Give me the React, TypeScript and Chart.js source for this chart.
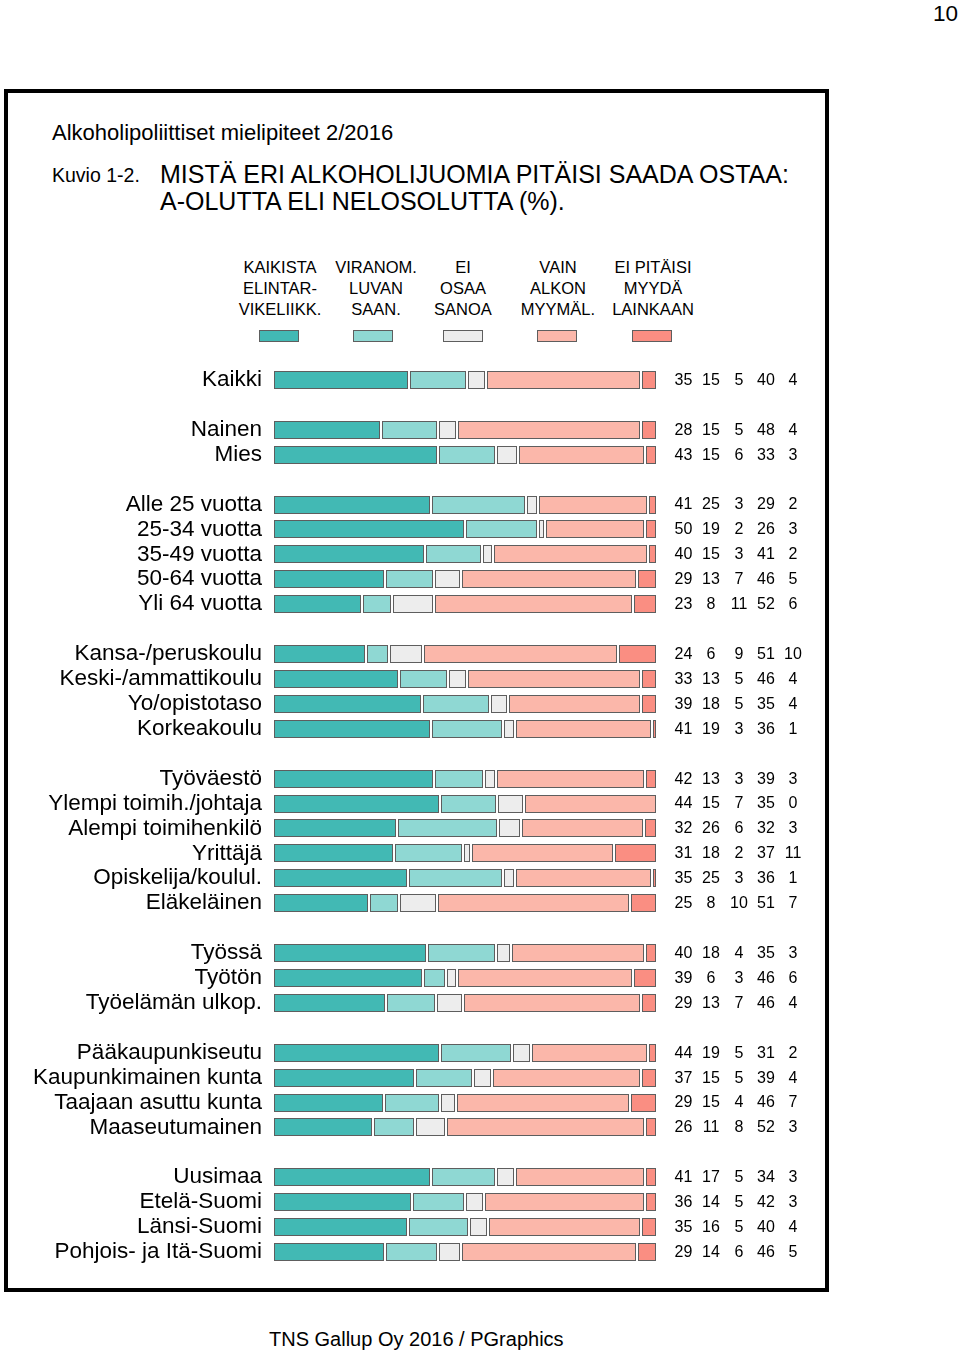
import React, { useEffect, useRef } from "react";
import { Chart, registerables } from "chart.js";

Chart.register(...registerables);

const FONT = '"Liberation Sans", Arial, Helvetica, sans-serif';
const BORDER = "#5e5e5e";

// ---- data ----
const categories = [
  "Kaikki",
  "Nainen", "Mies",
  "Alle 25 vuotta", "25-34 vuotta", "35-49 vuotta", "50-64 vuotta", "Yli 64 vuotta",
  "Kansa-/peruskoulu", "Keski-/ammattikoulu", "Yo/opistotaso", "Korkeakoulu",
  "Työväestö", "Ylempi toimih./johtaja", "Alempi toimihenkilö", "Yrittäjä", "Opiskelija/koulul.", "Eläkeläinen",
  "Työssä", "Työtön", "Työelämän ulkop.",
  "Pääkaupunkiseutu", "Kaupunkimainen kunta", "Taajaan asuttu kunta", "Maaseutumainen",
  "Uusimaa", "Etelä-Suomi", "Länsi-Suomi", "Pohjois- ja Itä-Suomi",
];
const groupSizes = [1, 2, 5, 4, 6, 3, 4, 4];

const seriesNames = [
  ["KAIKISTA", "ELINTAR-", "VIKELIIKK."],
  ["VIRANOM.", "LUVAN", "SAAN."],
  ["EI", "OSAA", "SANOA"],
  ["VAIN", "ALKON", "MYYMÄL."],
  ["EI PITÄISI", "MYYDÄ", "LAINKAAN"],
];

const kaikistaElintarvikeliikkeista = [35, 28, 43, 41, 50, 40, 29, 23, 24, 33, 39, 41, 42, 44, 32, 31, 35, 25, 40, 39, 29, 44, 37, 29, 26, 41, 36, 35, 29];
const viranomaisenLuvanSaaneista = [15, 15, 15, 25, 19, 15, 13, 8, 6, 13, 18, 19, 13, 15, 26, 18, 25, 8, 18, 6, 13, 19, 15, 15, 11, 17, 14, 16, 14];
const eiOsaaSanoa = [5, 5, 6, 3, 2, 3, 7, 11, 9, 5, 5, 3, 3, 7, 6, 2, 3, 10, 4, 3, 7, 5, 5, 4, 8, 5, 5, 5, 6];
const vainAlkonMyymalista = [40, 48, 33, 29, 26, 41, 46, 52, 51, 46, 35, 36, 39, 35, 32, 37, 36, 51, 35, 46, 46, 31, 39, 46, 52, 34, 42, 40, 46];
const eiPitaisiMyydaLainkaan = [4, 4, 3, 2, 3, 2, 5, 6, 10, 4, 4, 1, 3, 0, 3, 11, 1, 7, 3, 6, 4, 2, 4, 7, 3, 3, 3, 4, 5];

const seriesValues = [
  kaikistaElintarvikeliikkeista,
  viranomaisenLuvanSaaneista,
  eiOsaaSanoa,
  vainAlkonMyymalista,
  eiPitaisiMyydaLainkaan,
];
const seriesColors = ["#42b9b4", "#8fd8d3", "#ededed", "#fbb7aa", "#fa8e82"];

// ---- layout ----
const valueColumnsX = [683.5, 711, 739, 766, 793];
const legendCentersX = [280, 376, 463, 558, 653];
const swatchLeftX = [259, 353, 443, 537, 632];

function Txt(props: { x: number; base: number; size: number; align?: string; children: any }) {
  const { x, base, size, align = "left", children } = props;
  const style: any = {
    position: "absolute",
    top: base - 0.8465 * size,
    fontSize: size,
    lineHeight: size + "px",
    fontFamily: FONT,
    whiteSpace: "nowrap",
    color: "#000",
  };
  if (align === "left") style.left = x;
  else if (align === "right") style.right = 960 - x;
  else {
    style.left = x;
    style.transform = "translateX(-50%)";
  }
  return <div style={style}>{children}</div>;
}

export default function App() {
  const canvasRef = useRef<HTMLCanvasElement | null>(null);

  useEffect(() => {
    const rowLabels: string[] = [];
    const rowIndex: (number | null)[] = [];
    let k = 0;
    groupSizes.forEach((g, gi) => {
      if (gi > 0) {
        rowLabels.push("");
        rowIndex.push(null);
      }
      for (let i = 0; i < g; i++) {
        rowLabels.push(categories[k]);
        rowIndex.push(k);
        k++;
      }
    });
    const totals = categories.map((_, i) => seriesValues.reduce((s, arr) => s + arr[i], 0));

    const datasets = seriesValues.map((arr, si) => ({
      label: seriesNames[si].join(" "),
      data: rowIndex.map((r) => (r === null ? null : (arr[r] * 100) / totals[r])),
      backgroundColor: seriesColors[si],
    }));

    const segmentPlugin = {
      id: "segments",
      beforeDatasetDraw() {
        return false;
      },
      afterDatasetsDraw(chart: any) {
        const ctx = chart.ctx;
        const area = chart.chartArea;
        ctx.save();
        chart.data.datasets.forEach((ds: any, di: number) => {
          const meta = chart.getDatasetMeta(di);
          meta.data.forEach((el: any, i: number) => {
            const v = ds.data[i];
            if (v == null || v <= 0) return;
            const p = el.getProps(["x", "y", "base", "height"], true);
            let l = Math.round(Math.min(p.x, p.base));
            let r = Math.round(Math.max(p.x, p.base));
            const t = Math.round(p.y - p.height / 2);
            const b = Math.round(p.y + p.height / 2);
            if (l > area.left + 0.5) l += 1;
            if (r < area.right - 0.5) r -= 1;
            if (r - l < 2) r = l + 2;
            ctx.fillStyle = ds.backgroundColor;
            ctx.fillRect(l, t, r - l, b - t);
            ctx.strokeStyle = BORDER;
            ctx.lineWidth = 1;
            ctx.strokeRect(l + 0.5, t + 0.5, r - l - 1, b - t - 1);
          });
        });
        ctx.restore();
      },
    };

    const valuePlugin = {
      id: "values",
      afterDraw(chart: any) {
        const ctx = chart.ctx;
        const yScale = chart.scales.y;
        ctx.save();
        ctx.font = `16px ${FONT}`;
        ctx.fillStyle = "#000";
        ctx.textAlign = "center";
        ctx.textBaseline = "middle";
        rowIndex.forEach((r, i) => {
          if (r === null) return;
          const y = yScale.getPixelForValue(i) + 0.5;
          seriesValues.forEach((arr, si) => {
            ctx.fillText(String(arr[r]), valueColumnsX[si], y);
          });
        });
        ctx.restore();
      },
    };

    const chart = new Chart(canvasRef.current as HTMLCanvasElement, {
      type: "bar",
      data: { labels: rowLabels, datasets: datasets as any },
      options: {
        indexAxis: "y",
        responsive: false,
        animation: false,
        events: [],
        layout: { padding: { left: 0, right: 174, top: 17.5, bottom: 15.5 } },
        plugins: { legend: { display: false }, tooltip: { enabled: false } },
        datasets: { bar: { barThickness: 18 } },
        scales: {
          x: { stacked: true, min: 0, max: 100, display: false },
          y: {
            stacked: true,
            grid: { display: false, drawTicks: false },
            border: { display: false },
            afterFit: (s: any) => {
              s.width = 274;
              s.paddingTop = 0;
              s.paddingBottom = 0;
            },
            ticks: {
              autoSkip: false,
              padding: 12,
              color: "#000",
              font: { family: FONT, size: 22.5 },
            },
          },
        },
      } as any,
      plugins: [segmentPlugin, valuePlugin],
    });
    return () => chart.destroy();
  }, []);

  return (
    <div style={{ position: "absolute", left: 0, top: 0, width: 960, height: 1354, background: "#fff", overflow: "hidden" }}>
      <Txt x={958} base={22} size={22.5} align="right">10</Txt>
      <div
        style={{
          position: "absolute",
          left: 4,
          top: 89,
          width: 825,
          height: 1203,
          border: "4px solid #000",
          boxSizing: "border-box",
        }}
      />
      <Txt x={52} base={141} size={22}>Alkoholipoliittiset mielipiteet 2/2016</Txt>
      <Txt x={52} base={183} size={19.5}>Kuvio 1-2.</Txt>
      <Txt x={160} base={183} size={25}>MISTÄ ERI ALKOHOLIJUOMIA PITÄISI SAADA OSTAA:</Txt>
      <Txt x={160} base={210} size={25}>A-OLUTTA ELI NELOSOLUTTA (%).</Txt>
      {seriesNames.map((lines, si) =>
        lines.map((line, li) => (
          <Txt key={si + "-" + li} x={legendCentersX[si]} base={273 + li * 21.2} size={16.5} align="center">
            {line}
          </Txt>
        ))
      )}
      {seriesColors.map((c, si) => (
        <div
          key={"sw" + si}
          style={{
            position: "absolute",
            left: swatchLeftX[si],
            top: 330,
            width: 40,
            height: 12,
            background: c,
            border: `1px solid ${BORDER}`,
            boxSizing: "border-box",
          }}
        />
      ))}
      <canvas
        ref={canvasRef}
        width={830}
        height={930}
        style={{ position: "absolute", left: 0, top: 350, width: 830, height: 930 }}
      />
      <Txt x={269} base={1346} size={20}>TNS Gallup Oy 2016 / PGraphics</Txt>
    </div>
  );
}
